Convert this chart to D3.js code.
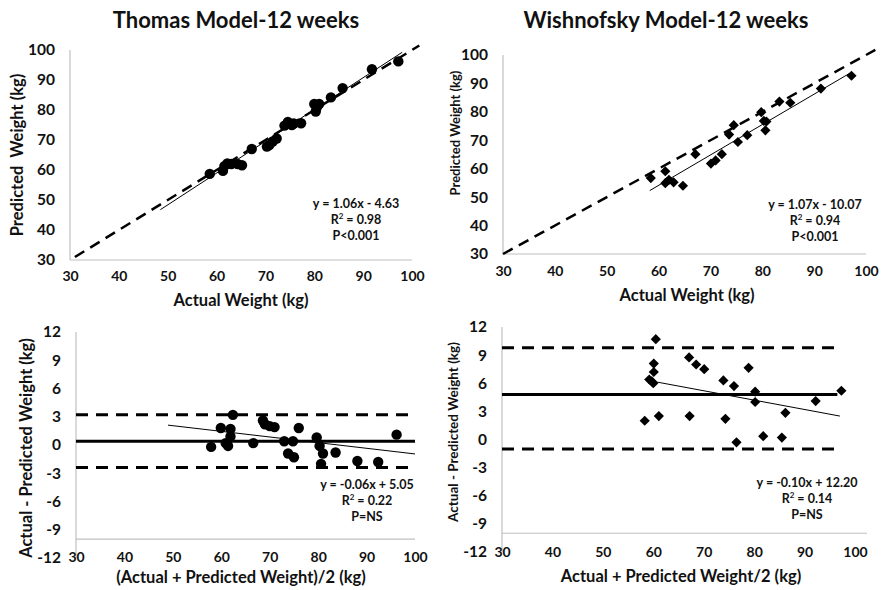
<!DOCTYPE html>
<html>
<head>
<meta charset="utf-8">
<script src="https://cdn.jsdelivr.net/npm/d3@7"></script>
<style>
body { margin: 0; background: #fff; }
text { font-family: Lato, "Open Sans", sans-serif; font-weight: 700; fill: #111; }
</style>
</head>
<body>
<svg id="chart" width="884" height="590"></svg>
<script>
// ---- data ----
// Thomas model: actual vs predicted weight (kg)
var thomasActual = [58.6, 61.3, 61.6, 62.2, 63.0, 64.3, 65.2, 67.2, 70.3, 70.8, 71.5, 72.3, 73.9, 74.6, 75.4, 75.8, 77.3, 80.0, 80.3, 80.5, 81.0, 83.4, 85.8, 91.8, 97.2];
var thomasPred   = [58.7, 59.7, 61.3, 62.2, 62.0, 62.0, 61.6, 67.0, 67.8, 68.3, 69.5, 70.5, 74.8, 76.0, 75.0, 75.5, 75.6, 82.0, 79.5, 80.8, 82.0, 84.2, 87.3, 93.6, 96.2];

// Wishnofsky model: actual vs predicted weight (kg)
var wishActual = [58.5, 61.3, 61.3, 62.0, 62.9, 64.7, 67.1, 70.1, 71.0, 72.2, 73.6, 74.5, 75.3, 77.1, 79.8, 80.3, 80.8, 80.6, 83.3, 85.4, 91.3, 97.2];
var wishPred   = [56.7, 59.1, 54.9, 56.1, 55.2, 54.0, 65.1, 61.8, 62.9, 65.1, 72.0, 75.3, 69.4, 71.8, 79.9, 76.8, 76.6, 73.5, 83.6, 83.2, 88.2, 92.7];

// Bland-Altman, Thomas: mean of actual & predicted, and difference
var thomasMean = [57.9, 59.9, 60.9, 61.4, 61.9, 61.9, 62.4, 66.6, 68.6, 69.0, 70.0, 71.0, 73.0, 73.8, 74.8, 75.0, 76.0, 79.7, 80.3, 80.6, 81.0, 83.6, 88.1, 92.4, 96.2];
var thomasDiff = [-0.2, 1.8, 0.2, -0.1, 1.7, 0.9, 3.2, 0.2, 2.6, 2.2, 2.0, 1.9, 0.4, -0.9, 0.4, -1.3, 1.8, 0.8, -0.1, -2.0, -0.9, -0.8, -1.7, -1.8, 1.1];

// Bland-Altman, Wishnofsky
var wishMean = [58.3, 59.2, 59.7, 60.0, 60.1, 60.1, 60.5, 61.1, 67.1, 67.2, 68.5, 70.1, 73.9, 74.3, 76.0, 76.5, 78.9, 80.2, 80.2, 81.8, 85.5, 86.2, 92.2, 97.3];
var wishDiff = [2.0, 6.4, 6.2, 6.0, 8.1, 7.2, 10.7, 2.5, 8.75, 2.5, 8.0, 7.5, 6.3, 2.2, 5.7, -0.3, 7.65, 5.1, 4.0, 0.35, 0.2, 2.85, 4.1, 5.2];

var weightTicks = [30, 40, 50, 60, 70, 80, 90, 100];
var diffTicks = [-12, -9, -6, -3, 0, 3, 6, 9, 12];

var svg = d3.select("#chart");
var plain = function(d) { return String(d); }; // keep hyphen minus like the original

function drawPanel(o) {
  var x = d3.scaleLinear().domain(o.xDomain).range(o.xRange);
  var y = d3.scaleLinear().domain(o.yDomain).range(o.yRange);
  var g = svg.append("g");

  // light grey axis lines
  g.append("line")
    .attr("x1", x(o.xDomain[0])).attr("x2", x(o.xDomain[1]) + (o.xLineExtra || 0))
    .attr("y1", y(o.xCross)).attr("y2", y(o.xCross))
    .attr("stroke", "#c0c0c0").attr("stroke-width", 1.2);
  g.append("line")
    .attr("x1", x(o.xDomain[0])).attr("x2", x(o.xDomain[0]))
    .attr("y1", y(o.yDomain[1])).attr("y2", y(o.yDomain[0]))
    .attr("stroke", "#c0c0c0").attr("stroke-width", 1.2);

  // tick labels only, no tick marks
  g.append("g")
    .attr("transform", "translate(" + x(o.xDomain[0]) + ",0)")
    .call(d3.axisLeft(y).tickValues(o.yTicks).tickFormat(plain).tickSize(0).tickPadding(15))
    .call(a => a.select(".domain").remove())
    .selectAll("text").style("font-size", "15.5px").attr("fill", "#111");
  g.append("g")
    .attr("transform", "translate(0," + (o.xLabelY - 9) + ")")
    .call(d3.axisBottom(x).tickValues(weightTicks).tickFormat(plain).tickSize(0).tickPadding(3))
    .call(a => a.select(".domain").remove())
    .selectAll("text").style("font-size", "14px").attr("fill", "#111");

  // horizontal reference lines (Bland-Altman)
  (o.hLines || []).forEach(function(h) {
    g.append("line")
      .attr("x1", x(o.xDomain[0])).attr("x2", x(h.to))
      .attr("y1", y(h.v)).attr("y2", y(h.v))
      .attr("stroke", "#000").attr("stroke-width", 3)
      .attr("stroke-dasharray", h.dash ? "12,8" : null);
  });

  // line of identity
  if (o.identity) {
    g.append("line")
      .attr("x1", x(o.identity[0])).attr("y1", y(o.identity[0]))
      .attr("x2", x(o.identity[1])).attr("y2", y(o.identity[1]))
      .attr("stroke", "#000").attr("stroke-width", 2.5)
      .attr("stroke-dasharray", "11,7");
  }

  // regression line
  var fit = function(v) { return o.slope * v + o.icpt; };
  g.append("line")
    .attr("x1", x(o.fitRange[0])).attr("y1", y(fit(o.fitRange[0])))
    .attr("x2", x(o.fitRange[1])).attr("y2", y(fit(o.fitRange[1])))
    .attr("stroke", "#000").attr("stroke-width", 1);

  // points
  var pts = o.xs.map(function(v, i) { return [v, o.ys[i]]; });
  if (o.marker === "circle") {
    g.selectAll("circle.pt").data(pts).enter().append("circle")
      .attr("class", "pt")
      .attr("cx", d => x(d[0])).attr("cy", d => y(d[1]))
      .attr("r", 5.2).attr("fill", "#000");
  } else {
    var sym = d3.symbol().type(d3.symbolSquare).size(52);
    g.selectAll("path.pt").data(pts).enter().append("path")
      .attr("class", "pt")
      .attr("d", sym)
      .attr("transform", d => "translate(" + x(d[0]) + "," + y(d[1]) + ") rotate(45)")
      .attr("fill", "#000");
  }

  // equation text
  o.notes.forEach(function(t, i) {
    var tx = g.append("text")
      .attr("x", o.noteX).attr("y", o.noteY + i * 16)
      .attr("text-anchor", "middle")
      .style("font-size", "12.5px");
    if (t.indexOf("R2") === 0) {
      tx.append("tspan").text("R");
      tx.append("tspan").attr("dy", -5).style("font-size", "8px").text("2");
      tx.append("tspan").attr("dy", 5).text(t.slice(2));
    } else {
      tx.text(t);
    }
  });

  // axis titles
  g.append("text")
    .attr("x", o.xTitle[1]).attr("y", o.xTitle[2])
    .attr("text-anchor", "middle").attr("dy", "0.35em")
    .style("font-size", o.xTitle[3] + "px")
    .text(o.xTitle[0]);
  g.append("text")
    .attr("transform", "translate(" + o.yTitle[1] + "," + o.yTitle[2] + ") rotate(-90)")
    .attr("text-anchor", "middle").attr("dy", "0.35em")
    .style("font-size", o.yTitle[3] + "px")
    .style("white-space", "pre")
    .text(o.yTitle[0]);
}

// titles
svg.append("text").attr("x", 236).attr("y", 28).attr("text-anchor", "middle")
  .style("font-size", "22px").text("Thomas Model-12 weeks");
svg.append("text").attr("x", 666).attr("y", 28).attr("text-anchor", "middle")
  .style("font-size", "22px").text("Wishnofsky Model-12 weeks");

drawPanel({
  xs: thomasActual, ys: thomasPred, marker: "circle",
  xDomain: [30, 100], xRange: [70, 412],
  yDomain: [30, 100], yRange: [260, 50],
  xCross: 30, yTicks: weightTicks, xLabelY: 277,
  identity: [31, 101.5],
  slope: 1.06, icpt: -4.63, fitRange: [48.5, 98],
  notes: ["y = 1.06x - 4.63", "R2 = 0.98", "P<0.001"], noteX: 356, noteY: 208,
  xTitle: ["Actual Weight (kg)", 241, 300, 16.5],
  yTitle: ["Predicted  Weight (kg)", 17, 155, 16.5]
});

drawPanel({
  xs: wishActual, ys: wishPred, marker: "diamond",
  xDomain: [30, 100], xRange: [503, 866],
  yDomain: [30, 100], yRange: [254, 55],
  xCross: 30, yTicks: weightTicks, xLabelY: 272,
  identity: [30, 101.8],
  slope: 1.07, icpt: -10.07, fitRange: [58.3, 97],
  notes: ["y = 1.07x - 10.07", "R2 = 0.94", "P<0.001"], noteX: 815, noteY: 209,
  xTitle: ["Actual Weight (kg)", 687, 295, 16.5],
  yTitle: ["Predicted Weight (kg)", 455, 133, 13]
});

drawPanel({
  xs: thomasMean, ys: thomasDiff, marker: "circle",
  xDomain: [30, 100], xRange: [76, 415],
  yDomain: [-12, 12], yRange: [558, 332],
  xCross: -10, yTicks: diffTicks, xLabelY: 558,
  hLines: [{ v: 0.4, to: 100 }, { v: 3.2, to: 100, dash: true }, { v: -2.4, to: 100, dash: true }],
  slope: -0.06, icpt: 5.05, fitRange: [49, 100],
  notes: ["y = -0.06x + 5.05", "R2 = 0.22", "P=NS"], noteX: 367, noteY: 489,
  xTitle: ["(Actual + Predicted Weight)/2 (kg)", 241, 577, 16.5],
  yTitle: ["Actual - Predicted Weight (kg)", 26, 448, 16.5]
});

drawPanel({
  xs: wishMean, ys: wishDiff, marker: "diamond",
  xDomain: [30, 100], xRange: [502, 855],
  yDomain: [-12, 12], yRange: [552, 327],
  xCross: -10, yTicks: diffTicks, xLabelY: 553, xLineExtra: 12,
  hLines: [{ v: 4.8, to: 96.5 }, { v: 9.8, to: 96, dash: true }, { v: -1.0, to: 96, dash: true }],
  slope: -0.10, icpt: 12.20, fitRange: [60.5, 97],
  notes: ["y = -0.10x + 12.20", "R2 = 0.14", "P=NS"], noteX: 807, noteY: 487,
  xTitle: ["Actual + Predicted Weight/2 (kg)", 681, 576, 16.5],
  yTitle: ["Actual - Predicted Weight (kg)", 453, 432, 13.5]
});
</script>
</body>
</html>
